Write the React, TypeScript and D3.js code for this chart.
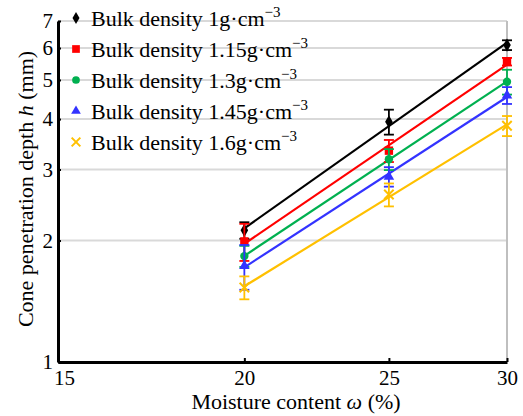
import React, { useRef, useEffect } from "react";
import * as d3 from "d3";

// moisture content (%) at which the cone tests were run
const moisture = [20, 25, 30];

// bulk density labels (g·cm-3)
const densities = ["1", "1.15", "1.3", "1.45", "1.6"];

// mean cone penetration depth h (mm), one array per bulk density
const depth100 = [2.12, 3.94, 6.1];
const depth115 = [1.99, 3.34, 5.55];
const depth130 = [1.83, 3.18, 4.95];
const depth145 = [1.73, 2.88, 4.58];
const depth160 = [1.53, 2.6, 3.85];

// standard deviation of h (mm)
const err100 = [0.1, 0.28, 0.17];
const err115 = [0.21, 0.21, 0.12];
const err130 = [0.11, 0.19, 0.35];
const err145 = [0.22, 0.16, 0.22];
const err160 = [0.1, 0.17, 0.22];

const xTicks = [15, 20, 25, 30];
const yTicks = [1, 2, 3, 4, 5, 6, 7];

const colors = ["#000000", "#ff0000", "#00b050", "#3333ff", "#ffc000"];
const symbols = [d3.symbolDiamond, d3.symbolSquare, d3.symbolCircle, d3.symbolTriangle, d3.symbolTimes];
const symbolSizes = [50, 70, 55, 48, 60];

const FONT = "'Liberation Serif', 'Times New Roman', serif";

const App = () => {
  const ref = useRef<SVGSVGElement | null>(null);

  useEffect(() => {
    if (!ref.current) return;
    const svg = d3.select(ref.current);
    svg.selectAll("*").remove();

    const left = 58,
      right = 507,
      top = 21,
      bottom = 362;

    const x = d3.scaleLog().domain([15, 30]).range([left, right]);
    const y = d3.scaleLog().domain([1, 7]).range([bottom, top]);

    const errs = [err100, err115, err130, err145, err160];
    const series = [depth100, depth115, depth130, depth145, depth160].map((vals, i) => ({
      name: densities[i],
      color: colors[i],
      symbol: symbols[i],
      size: symbolSizes[i],
      points: moisture.map((m, j) => ({ x: m, y: vals[j], e: errs[i][j] })),
    }));

    // gridlines
    svg
      .append("g")
      .selectAll("line")
      .data(yTicks.slice(1))
      .enter()
      .append("line")
      .attr("x1", left)
      .attr("x2", right)
      .attr("y1", (d) => y(d))
      .attr("y2", (d) => y(d))
      .attr("stroke", "#d9d9d9")
      .attr("stroke-width", 2);

    // right frame
    svg
      .append("line")
      .attr("x1", right)
      .attr("x2", right)
      .attr("y1", top)
      .attr("y2", bottom)
      .attr("stroke", "#bfbfbf")
      .attr("stroke-width", 2);

    // axes
    const xAxis = svg
      .append("g")
      .attr("transform", `translate(0,${bottom})`)
      .call(
        d3
          .axisBottom(x)
          .tickValues(xTicks)
          .tickFormat((d) => String(d))
          .tickSizeInner(-4)
          .tickSizeOuter(0)
          .tickPadding(8)
      );
    const yAxis = svg
      .append("g")
      .attr("transform", `translate(${left},0)`)
      .call(
        d3
          .axisLeft(y)
          .tickValues(yTicks)
          .tickFormat((d) => String(d))
          .tickSizeInner(-3)
          .tickSizeOuter(0)
          .tickPadding(5)
      );
    [xAxis, yAxis].forEach((g) => {
      g.select(".domain").attr("stroke", "#000").attr("stroke-width", 3);
      g.selectAll(".tick line").attr("stroke", "#000").attr("stroke-width", 2);
      g.selectAll(".tick text")
        .attr("fill", "#000")
        .style("font-family", FONT)
        .style("font-size", "21px");
    });
    // first x label sits a bit right of its tick, clear of the "1"
    xAxis
      .selectAll<SVGTextElement, number>(".tick text")
      .filter((d) => d === 15)
      .attr("x", 6);

    // fitted power law lines (straight in log-log)
    series.forEach((s) => {
      const lx = s.points.map((p) => Math.log(p.x));
      const ly = s.points.map((p) => Math.log(p.y));
      const mx = d3.mean(lx) as number;
      const my = d3.mean(ly) as number;
      const b =
        d3.sum(lx, (v, k) => (v - mx) * (ly[k] - my)) / d3.sum(lx, (v) => (v - mx) * (v - mx));
      const a = my - b * mx;
      const line = d3
        .line<number>()
        .x((d) => x(d))
        .y((d) => y(Math.exp(a + b * Math.log(d))));
      svg
        .append("path")
        .datum([moisture[0], moisture[moisture.length - 1]])
        .attr("fill", "none")
        .attr("stroke", s.color)
        .attr("stroke-width", 2.2)
        .attr("d", line);
    });

    // error bars and markers
    series.forEach((s) => {
      const g = svg.append("g");
      const eb = g.selectAll(".eb").data(s.points).enter().append("g");
      eb.append("line")
        .attr("x1", (d) => x(d.x))
        .attr("x2", (d) => x(d.x))
        .attr("y1", (d) => y(d.y - d.e))
        .attr("y2", (d) => y(d.y + d.e))
        .attr("stroke", s.color)
        .attr("stroke-width", 1.8);
      [-1, 1].forEach((sign) => {
        eb.append("line")
          .attr("x1", (d) => x(d.x) - 5)
          .attr("x2", (d) => x(d.x) + 5)
          .attr("y1", (d) => y(d.y + sign * d.e))
          .attr("y2", (d) => y(d.y + sign * d.e))
          .attr("stroke", s.color)
          .attr("stroke-width", 1.8);
      });
      const stroked = s.symbol === d3.symbolTimes;
      g.selectAll(".m")
        .data(s.points)
        .enter()
        .append("path")
        .attr("transform", (d) => `translate(${x(d.x)},${y(d.y)})`)
        .attr("d", d3.symbol().type(s.symbol).size(s.size)() as string)
        .attr("fill", stroked ? "none" : s.color)
        .attr("stroke", stroked ? s.color : "none")
        .attr("stroke-width", 2);
    });

    // legend
    const legend = svg.append("g");
    series.forEach((s, i) => {
      const ly = 18 + i * 31;
      const stroked = s.symbol === d3.symbolTimes;
      legend
        .append("path")
        .attr("transform", `translate(76,${ly})`)
        .attr("d", d3.symbol().type(s.symbol).size(s.size * 0.85)() as string)
        .attr("fill", stroked ? "none" : s.color)
        .attr("stroke", stroked ? s.color : "none")
        .attr("stroke-width", 2);
      const t = legend
        .append("text")
        .attr("x", 91)
        .attr("y", ly + 8)
        .style("font-family", FONT)
        .style("font-size", "22px")
        .attr("fill", "#000");
      t.append("tspan").text(`Bulk density ${s.name}g·cm`);
      t.append("tspan").attr("dy", -9).style("font-size", "15px").text("−3");
    });

    // axis titles
    const xt = svg
      .append("text")
      .attr("x", 296)
      .attr("y", 409)
      .attr("text-anchor", "middle")
      .style("font-family", FONT)
      .style("font-size", "22px");
    xt.append("tspan").text("Moisture content ");
    xt.append("tspan").style("font-style", "italic").text("ω");
    xt.append("tspan").text(" (%)");

    const yt = svg
      .append("text")
      .attr("transform", "translate(33,189) rotate(-90)")
      .attr("text-anchor", "middle")
      .style("font-family", FONT)
      .style("font-size", "22px");
    yt.append("tspan").text("Cone penetration depth ");
    yt.append("tspan").style("font-style", "italic").text("h");
    yt.append("tspan").text(" (mm)");
  }, []);

  return (
    <svg
      ref={ref}
      width={523}
      height={416}
      style={{ position: "absolute", left: 0, top: 0, background: "#fff" }}
    />
  );
};

export default App;
